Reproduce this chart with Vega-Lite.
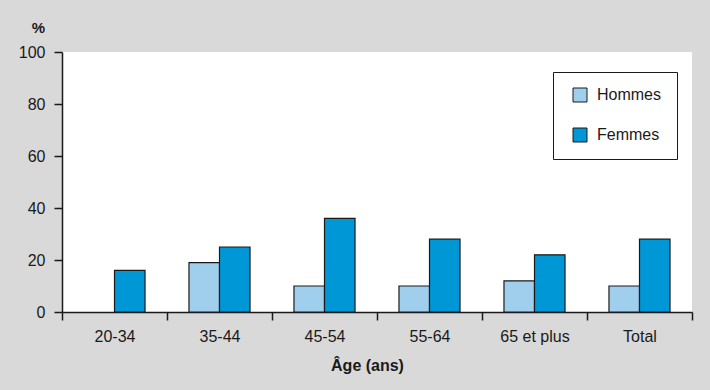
{
  "$schema": "https://vega.github.io/schema/vega-lite/v6.json",
  "width": 630,
  "height": 260,
  "autosize": {"type": "none"},
  "padding": {"left": 62, "top": 52, "right": 18, "bottom": 78},
  "background": "#d9d9d9",
  "config": {"view": {"fill": "white", "stroke": null}, "font": "Liberation Sans"},
  "data": {"values": [
    {"age": "20-34", "sexe": "Femmes", "pct": 16},
    {"age": "35-44", "sexe": "Hommes", "pct": 19},
    {"age": "35-44", "sexe": "Femmes", "pct": 25},
    {"age": "45-54", "sexe": "Hommes", "pct": 10},
    {"age": "45-54", "sexe": "Femmes", "pct": 36},
    {"age": "55-64", "sexe": "Hommes", "pct": 10},
    {"age": "55-64", "sexe": "Femmes", "pct": 28},
    {"age": "65 et plus", "sexe": "Hommes", "pct": 12},
    {"age": "65 et plus", "sexe": "Femmes", "pct": 22},
    {"age": "Total", "sexe": "Hommes", "pct": 10},
    {"age": "Total", "sexe": "Femmes", "pct": 28}
  ]},
  "mark": {"type": "bar", "stroke": "#1a1a1a", "strokeWidth": 1.2},
  "encoding": {
    "x": {
      "field": "age", "type": "nominal",
      "sort": ["20-34", "35-44", "45-54", "55-64", "65 et plus", "Total"],
      "scale": {"paddingInner": 0, "paddingOuter": 0},
      "axis": {
        "labelAngle": 0, "tickBand": "extent", "tickSize": 8, "labelPadding": 8,
        "labelFontSize": 16, "labelColor": "#1a1a1a", "domainColor": "#1a1a1a", "tickColor": "#1a1a1a",
        "domainWidth": 1.5, "tickWidth": 1.5,
        "title": "Âge (ans)", "titleFontSize": 16, "titleFontWeight": "bold", "titlePadding": 13,
        "titleX": 305, "titleAlign": "center", "titleColor": "#1a1a1a"
      }
    },
    "xOffset": {"field": "sexe", "sort": ["Hommes", "Femmes"], "scale": {"paddingInner": 0, "paddingOuter": 0.72}},
    "y": {
      "field": "pct", "type": "quantitative",
      "scale": {"domain": [0, 100]},
      "axis": {
        "values": [0, 20, 40, 60, 80, 100], "grid": false, "tickSize": 8, "labelPadding": 9,
        "labelFontSize": 16, "labelColor": "#1a1a1a", "domainColor": "#1a1a1a", "tickColor": "#1a1a1a",
        "domainWidth": 1.5, "tickWidth": 1.5,
        "title": "%", "titleAngle": 0, "titleFontSize": 15, "titleFontWeight": "bold",
        "titleX": -24, "titleY": -25, "titleAlign": "center", "titleBaseline": "middle", "titleColor": "#1a1a1a"
      }
    },
    "color": {
      "field": "sexe", "type": "nominal",
      "scale": {"domain": ["Hommes", "Femmes"], "range": ["#a0cfee", "#0097d7"]},
      "legend": {
        "title": null, "orient": "none", "legendX": 491, "legendY": 20,
        "fillColor": "white", "strokeColor": "#1a1a1a", "padding": 15,
        "symbolType": "square", "symbolSize": 196, "symbolStrokeColor": "#1a1a1a", "symbolStrokeWidth": 1,
        "symbolOffset": 4,
        "labelFontSize": 16, "labelColor": "#1a1a1a", "labelOffset": 9, "rowPadding": 22,
        "labelLimit": 200
      }
    }
  }
}
